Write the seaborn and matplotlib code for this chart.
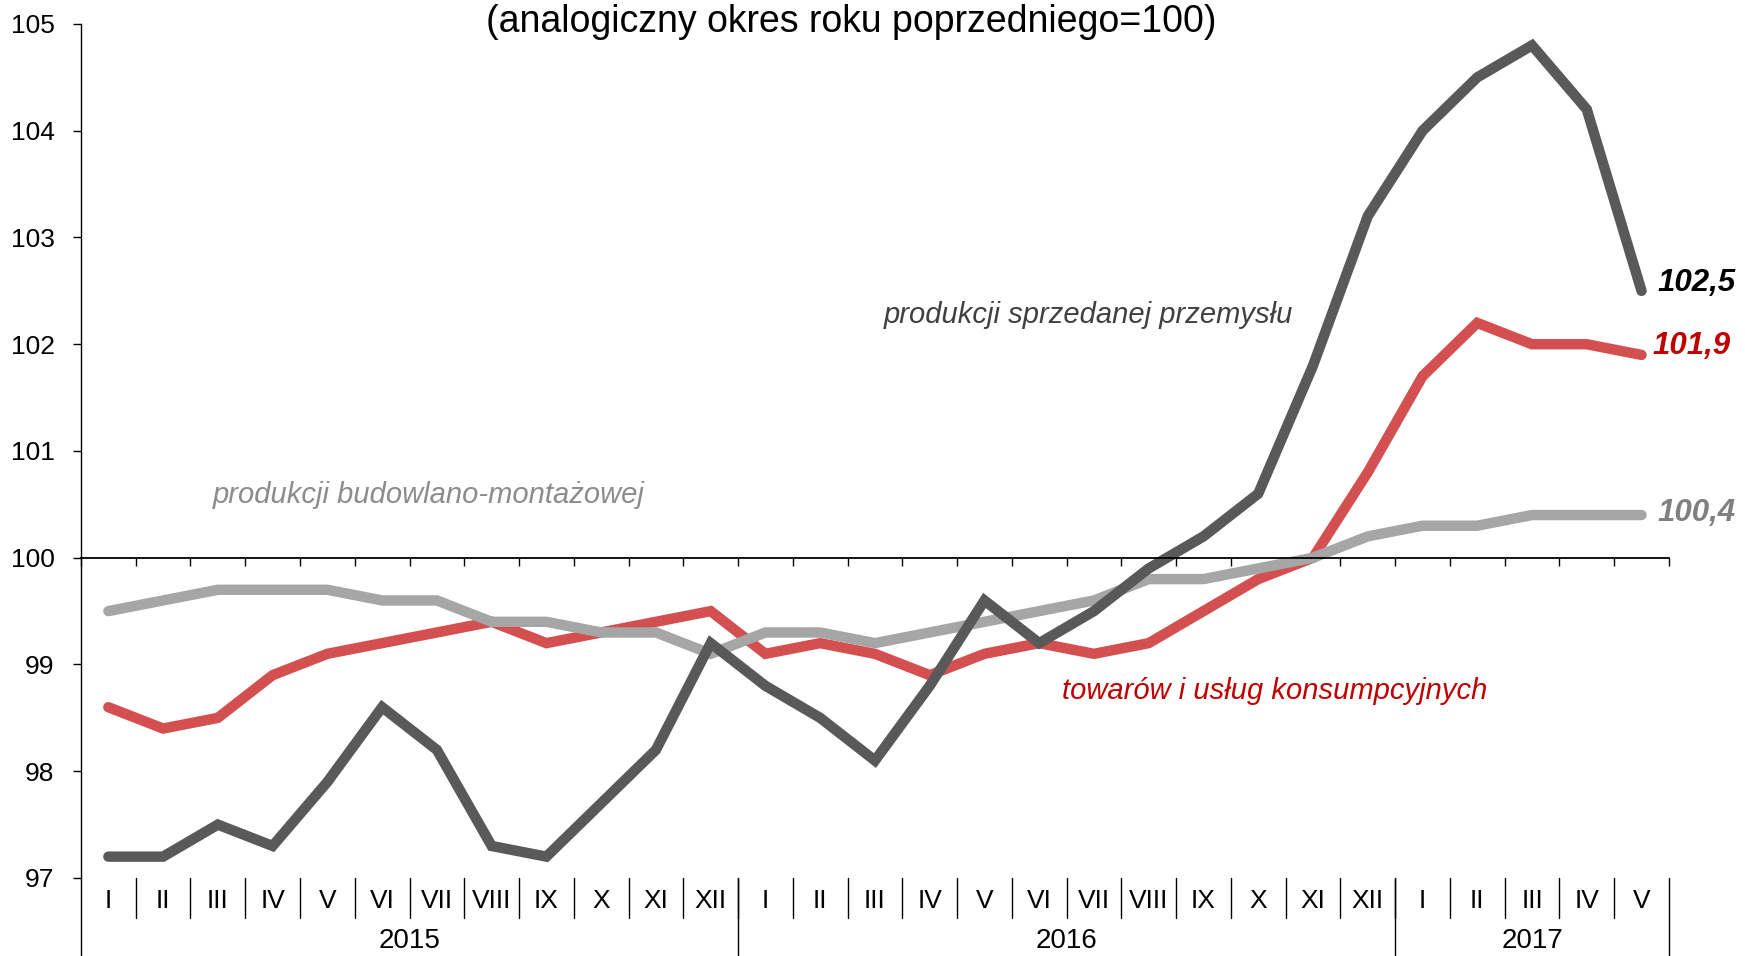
import numpy as np
import pandas as pd
import matplotlib
matplotlib.use("Agg")
import matplotlib.pyplot as plt
import matplotlib.transforms as mtransforms
import seaborn as sns

# month labels (roman) and years
months = ["I", "II", "III", "IV", "V", "VI", "VII", "VIII", "IX", "X", "XI", "XII",
          "I", "II", "III", "IV", "V", "VI", "VII", "VIII", "IX", "X", "XI", "XII",
          "I", "II", "III", "IV", "V"]
years = ["2015", "2016", "2017"]
year_lengths = [12, 12, 5]

# price indices (same period of previous year = 100)
industry = [97.2, 97.2, 97.5, 97.3, 97.9, 98.6, 98.2, 97.3, 97.2, 97.7, 98.2, 99.2,
            98.8, 98.5, 98.1, 98.8, 99.6, 99.2, 99.5, 99.9, 100.2, 100.6, 101.8, 103.2,
            104.0, 104.5, 104.8, 104.2, 102.5]
consumer = [98.6, 98.4, 98.5, 98.9, 99.1, 99.2, 99.3, 99.4, 99.2, 99.3, 99.4, 99.5,
            99.1, 99.2, 99.1, 98.9, 99.1, 99.2, 99.1, 99.2, 99.5, 99.8, 100.0, 100.8,
            101.7, 102.2, 102.0, 102.0, 101.9]
construction = [99.5, 99.6, 99.7, 99.7, 99.7, 99.6, 99.6, 99.4, 99.4, 99.3, 99.3, 99.1,
                99.3, 99.3, 99.2, 99.3, 99.4, 99.5, 99.6, 99.8, 99.8, 99.9, 100.0, 100.2,
                100.3, 100.3, 100.4, 100.4, 100.4]

df = pd.DataFrame({"idx": np.arange(len(months)),
                   "industry": industry,
                   "consumer": consumer,
                   "construction": construction})

sns.set_style("white")
plt.rcParams["font.family"] = ["Liberation Sans", "DejaVu Sans"]
plt.rcParams["text.color"] = "black"
plt.rcParams["xtick.color"] = "black"
plt.rcParams["ytick.color"] = "black"

fig = plt.figure(figsize=(17.45, 9.56), dpi=100)
ax = fig.add_axes([0.0464, 0.0816, 0.910, 0.8933])

lw = 7.5
sns.lineplot(data=df, x="idx", y="consumer", ax=ax, color="#d44f50", linewidth=lw,
             solid_capstyle="round", solid_joinstyle="miter")
sns.lineplot(data=df, x="idx", y="construction", ax=ax, color="#a6a6a6", linewidth=lw,
             solid_capstyle="round", solid_joinstyle="miter")
sns.lineplot(data=df, x="idx", y="industry", ax=ax, color="#595959", linewidth=lw,
             solid_capstyle="round", solid_joinstyle="miter")

n = len(months)
ax.set_xlim(-0.5, n - 0.5)
ax.set_ylim(97, 105)
ax.set_xlabel("")
ax.set_ylabel("")

# axes: left spine, horizontal axis crossing at 100
for s in ["top", "right"]:
    ax.spines[s].set_visible(False)
ax.spines["bottom"].set_position(("data", 100))
ax.spines["bottom"].set_linewidth(1.3)
ax.spines["left"].set_linewidth(1.0)
ax.spines["bottom"].set_color("black")
ax.spines["left"].set_color("black")
ax.set_xticks(np.arange(-0.5, n, 1.0))
ax.set_xticklabels([])
ax.tick_params(axis="x", bottom=True, direction="out", length=6, width=1, color="black")
ax.set_yticks(np.arange(97, 106, 1))
ax.set_yticklabels([str(v) for v in range(97, 106)])
ax.tick_params(axis="y", left=True, direction="out", length=6, width=1, color="black",
               labelsize=19, pad=13, labelcolor="black")

# month labels and separators below the plot
trans = mtransforms.blended_transform_factory(ax.transData, ax.transAxes)
for i, m in enumerate(months):
    ax.text(i, -0.027, m, transform=trans, ha="center", va="center", fontsize=19)
for b in np.arange(0.5, n - 1, 1.0):
    ax.plot([b, b], [0, -0.047], transform=trans, color="black", lw=1, clip_on=False)

start = -0.5
for y, L in zip(years, year_lengths):
    ax.plot([start, start], [0, -0.1], transform=trans, color="black", lw=1, clip_on=False)
    ax.text(start + L / 2, -0.074, y, transform=trans, ha="center", va="center", fontsize=20)
    start += L
ax.plot([start, start], [0, -0.1], transform=trans, color="black", lw=1, clip_on=False)

# title
fig.text(0.488, 0.977, "(analogiczny okres roku poprzedniego=100)", ha="center", va="center",
         fontsize=27)

# series labels
ax.text(17.9, 102.27, "produkcji sprzedanej przemysłu", ha="center", va="center",
        fontsize=21, style="italic", color="#404040")
ax.text(21.3, 98.75, "towarów i usług konsumpcyjnych", ha="center", va="center",
        fontsize=21, style="italic", color="#c00000")
ax.text(5.85, 100.59, "produkcji budowlano-montażowej", ha="center", va="center",
        fontsize=21, style="italic", color="#8c8c8c")

# end values
ax.text(28.3, industry[-1] + 0.07, "102,5", ha="left", va="center", fontsize=22.5,
        style="italic", weight="bold", color="black", clip_on=False)
ax.text(28.2, consumer[-1] + 0.08, "101,9", ha="left", va="center", fontsize=22.5,
        style="italic", weight="bold", color="#c00000", clip_on=False)
ax.text(28.3, construction[-1] + 0.02, "100,4", ha="left", va="center", fontsize=22.5,
        style="italic", weight="bold", color="#808080", clip_on=False)

fig.savefig("out.png", dpi=100)
